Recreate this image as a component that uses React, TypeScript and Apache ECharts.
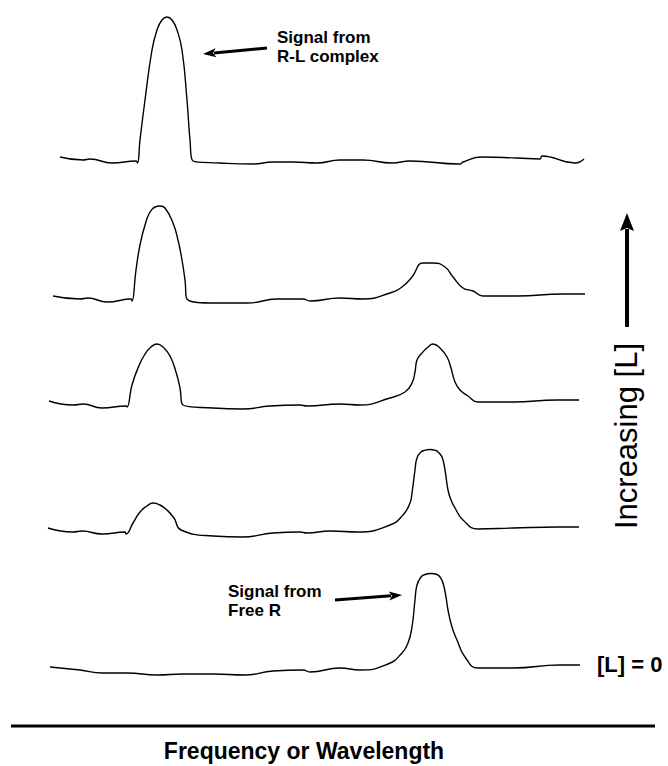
import React, { useEffect, useRef } from "react";
import * as echarts from "echarts";

// Frequency (arbitrary units) vs signal intensity (arbitrary units, relative to each trace's own baseline)
// [L] = 0
const traceL0: number[][] = [
  [10, 5], [40, 2], [62, -1], [87, -1], [117, -3], [143, -2], [173, -2], [205, -3], [233, 1], [263, 2], [270, 0],
  [300, 4], [320, 2], [348, 8], [362, 19], [368, 29], [372, 45], [375, 72], [377, 87], [381, 95], [385, 97.5],
  [391, 98.5], [397, 97.5], [400, 95], [403, 89], [406, 75], [408, 62], [412, 45], [417, 32], [425, 15], [438, 4],
  [473, 4], [520, 7], [540, 7],
];
// low [L]
const traceL1: number[][] = [
  [8, 4], [33, 0], [42, 1], [62, -2], [85, 0], [86, -2], [93, 9], [100, 20], [107, 26], [113, 29], [120, 27],
  [127, 22], [134, 14], [141, 2], [173, -4], [203, -5], [233, -1], [260, 0], [267, -1], [290, 1], [318, 0],
  [350, 7], [363, 17], [370, 29], [372, 39], [375, 62], [377, 74], [381, 80], [384, 81.5], [390, 82.5],
  [396, 81.5], [398, 80], [402, 75], [405, 62], [408, 42], [411, 32], [415, 24], [423, 12], [438, 3], [473, 4],
  [518, 5], [539, 5],
];
// medium [L]
const traceL2: number[][] = [
  [9, 4], [33, 0], [43, 1], [62, -3], [86, -1], [87, -2], [92, 20], [98, 37], [105, 51], [111, 58], [117, 61],
  [123, 58], [130, 49], [136, 33], [140, 17], [143, 0], [173, -3], [203, -4], [230, -1], [260, 0], [267, -1],
  [300, 1], [320, 0], [350, 7], [365, 13], [372, 22], [375, 33], [377, 45], [382, 52], [388, 58], [393, 61],
  [400, 57], [407, 48], [411, 37], [415, 23], [420, 15], [428, 9], [438, 3], [473, 3], [517, 5], [539, 5],
];
// high [L]
const traceL3: number[][] = [
  [13, 3], [40, 0], [48, 1], [67, -3], [91, 0], [92, -2], [96, 29], [100, 54], [105, 74], [110, 87], [115, 92],
  [120, 93], [125, 91], [133, 76], [138, 59], [142, 39], [145, 19], [147, 0], [177, -4], [208, -4], [237, 0],
  [263, 0], [270, -2], [300, 1], [323, 0], [350, 6], [362, 12], [372, 22], [383, 36], [393, 36], [405, 32],
  [413, 22], [423, 11], [433, 8], [443, 3], [477, 3], [523, 5], [545, 5],
];
// highest [L]
const traceL4: number[][] = [
  [20, 4], [43, 1], [50, 2], [72, -2], [96, 0], [97.5, -2], [100, 21], [105, 61], [112, 111], [117, 131],
  [122, 141], [127, 144], [132, 141], [137, 131], [142, 111], [147, 61], [150, 21], [153, 0], [180, -2],
  [213, -3], [233, -1], [253, -1], [277, -2], [300, 1], [323, 1], [352, -2], [370, 0], [420, -3], [423, -1],
  [442, 4], [477, 3], [500, 2], [502, 5], [535, -2], [544, 2],
];

const traces = [traceL0, traceL1, traceL2, traceL3, traceL4];
const baselineOffsets = [8, 148, 275, 381, 519];

const labelRL = "Signal from\nR-L complex";
const labelFreeR = "Signal from\nFree R";
const labelIncreasing = "Increasing [L]";
const labelZero = "[L] = 0";
const axisTitle = "Frequency or Wavelength";

const FONT = "'Liberation Sans', Arial, Helvetica, sans-serif";

function arrow(x1: number, y1: number, x2: number, y2: number, w: number, headLen: number, headHalf: number) {
  const dx = x2 - x1;
  const dy = y2 - y1;
  const len = Math.sqrt(dx * dx + dy * dy);
  const ux = dx / len;
  const uy = dy / len;
  const bx = x2 - ux * headLen;
  const by = y2 - uy * headLen;
  const px = -uy;
  const py = ux;
  return [
    {
      type: "line",
      shape: { x1, y1, x2: bx + ux * 2, y2: by + uy * 2 },
      style: { stroke: "#000", lineWidth: w },
      silent: true,
    },
    {
      type: "polygon",
      shape: {
        points: [
          [x2, y2],
          [bx + px * headHalf, by + py * headHalf],
          [bx + ux * 3, by + uy * 3],
          [bx - px * headHalf, by - py * headHalf],
        ],
      },
      style: { fill: "#000" },
      silent: true,
    },
  ];
}

export default function App() {
  const ref = useRef<HTMLDivElement>(null);

  useEffect(() => {
    document.body.style.margin = "0";
    if (!ref.current) return;
    const chart = echarts.init(ref.current, undefined, { renderer: "svg" });

    const series = traces.map((t, i) => ({
      type: "line",
      data: t.map(([f, v]) => [f, v + baselineOffsets[i]]),
      showSymbol: false,
      smooth: 0.5,
      silent: true,
      lineStyle: { color: "#000", width: 1.4 },
    }));

    chart.setOption({
      animation: false,
      backgroundColor: "#fff",
      grid: { left: 40, top: 10, width: 545, height: 670 },
      xAxis: { type: "value", min: 0, max: 545, show: false },
      yAxis: { type: "value", min: 0, max: 670, show: false },
      series,
      graphic: [
        ...arrow(267, 48, 203, 54, 3, 13, 4.5),
        ...arrow(335, 600, 402, 595, 3, 13, 4.5),
        ...arrow(627, 327, 627, 213, 4, 18, 7),
        {
          type: "line",
          shape: { x1: 11, y1: 726, x2: 655, y2: 726 },
          style: { stroke: "#000", lineWidth: 3 },
          silent: true,
        },
        {
          type: "text",
          x: 277,
          y: 28,
          style: {
            text: labelRL,
            font: `bold 17px ${FONT}`,
            lineHeight: 19,
            fill: "#000",
            align: "left",
            verticalAlign: "top",
          },
        },
        {
          type: "text",
          x: 228,
          y: 582,
          style: {
            text: labelFreeR,
            font: `bold 17px ${FONT}`,
            lineHeight: 19,
            fill: "#000",
            align: "left",
            verticalAlign: "top",
          },
        },
        {
          type: "text",
          x: 597,
          y: 664,
          style: {
            text: labelZero,
            font: `bold 22px ${FONT}`,
            fill: "#000",
            align: "left",
            verticalAlign: "middle",
          },
        },
        {
          type: "text",
          x: 626,
          y: 436,
          rotation: Math.PI / 2,
          style: {
            text: labelIncreasing,
            font: `31px ${FONT}`,
            fill: "#000",
            align: "center",
            verticalAlign: "middle",
          },
        },
        {
          type: "text",
          x: 304,
          y: 751,
          style: {
            text: axisTitle,
            font: `bold 23px ${FONT}`,
            fill: "#000",
            align: "center",
            verticalAlign: "middle",
          },
        },
      ],
    });

    return () => {
      chart.dispose();
    };
  }, []);

  return <div ref={ref} style={{ width: 668, height: 766 }} />;
}
